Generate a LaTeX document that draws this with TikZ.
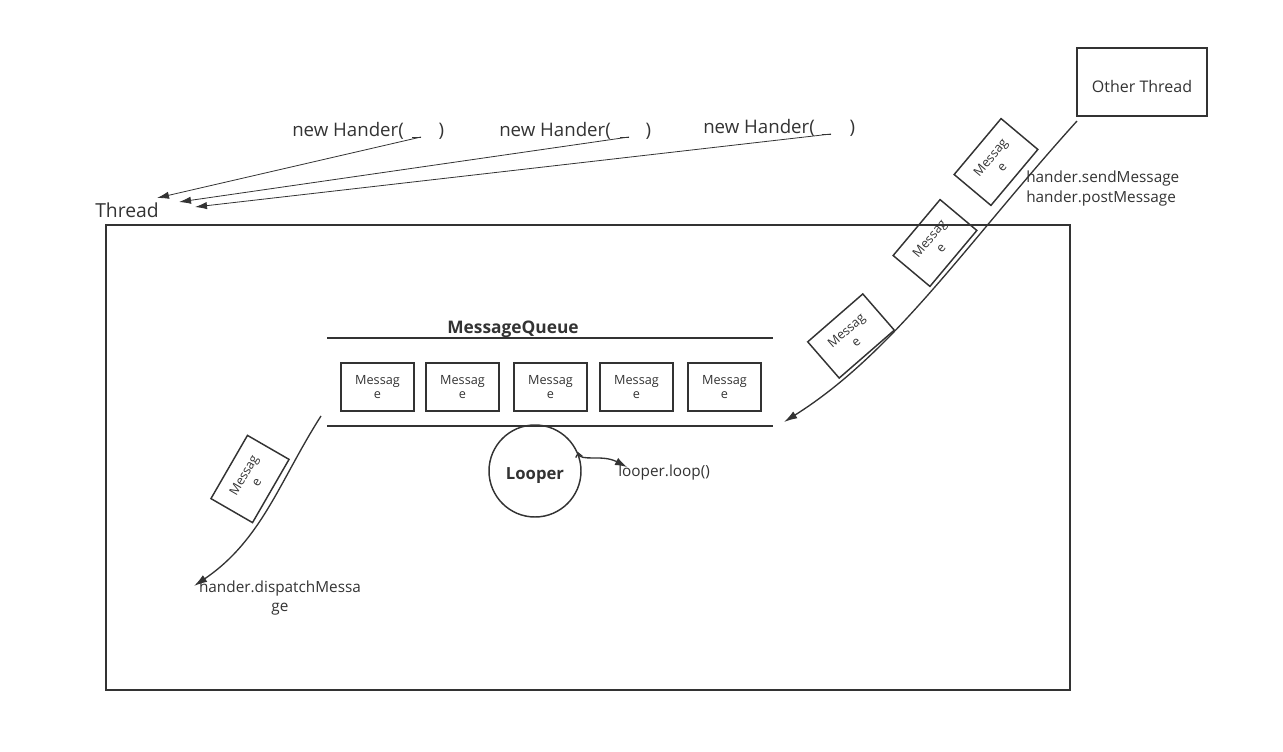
\documentclass[tikz,border=0pt]{standalone}
\usepackage{fontspec}
\setmainfont{Open Sans}
\usetikzlibrary{arrows.meta}
\begin{document}
\begin{tikzpicture}[x=0.75pt,y=-0.75pt,
  ink/.style={draw=black!80},
  frame/.style={ink,line width=1.1pt},
  msg/.style={frame,minimum width=54.75pt,minimum height=36pt,inner sep=0pt,
    align=center,font=\fontsize{9.5}{11}\selectfont,text=black!80},
  thin arrow/.style={ink,line width=0.6pt,-{Latex[length=9pt,width=5.5pt]}},
  flow arrow/.style={ink,line width=1pt,-{Latex[length=10pt,width=6pt]}},
  label/.style={inner sep=0pt,text=black!80},
  ctor/.style={label,anchor=west,font=\fontsize{14}{16}\selectfont}]
\useasboundingbox (0,0) rectangle (1283,752);

% thread container
\node[label,anchor=west,font=\fontsize{14.5}{16}\selectfont] (thread) at (95,210) {Thread};
\draw[frame] (106,225) rectangle (1070,690);

% handler constructors
\node[ctor] (h1) at (292,131) {new Hander(\hspace{26pt})};
\node[ctor] (h2) at (499,131) {new Hander(\hspace{26pt})};
\node[ctor] (h3) at (703,128) {new Hander(\hspace{26pt})};
\coordinate (h1s) at (421,137);
\coordinate (h2s) at (629,137);
\coordinate (h3s) at (831,134);
\coordinate (t1) at (157,198);
\coordinate (t2) at (179,202);
\coordinate (t3) at (195,207);
\draw[ink,line width=0.6pt] (h1s) -- ++(-9,0);
\draw[ink,line width=0.6pt] (h2s) -- ++(-9,0);
\draw[ink,line width=0.6pt] (h3s) -- ++(-9,0);
\draw[thin arrow] (h1s) -- (t1);
\draw[thin arrow] (h2s) -- (t2);
\draw[thin arrow] (h3s) -- (t3);

% other thread
\node[frame,minimum width=97.5pt,minimum height=51pt,inner sep=0pt,
  font=\fontsize{12}{14}\selectfont,text=black!80] (other) at (1142,82)
  {\raisebox{-8pt}[0pt][0pt]{Other Thread}};
\coordinate (os) at (1077,121);
\coordinate (qin) at (784,422);
\draw[flow arrow] (os) .. controls (965,245) and (895,352) .. (qin);
\node[label,anchor=north west,align=left,font=\fontsize{11.5}{14.5}\selectfont] (send) at (1026,171)
  {hander.sendMessage\\hander.postMessage};

% messages in transit
\node[msg,rotate=50] (m1) at (996,162) {Messag\\e};
\node[msg,rotate=50] (m2) at (935,243) {Messag\\e};
\node[msg,rotate=41] (m3) at (851,336) {Messag\\e};

% message queue
\draw[ink,line width=1.1pt] (327,338) -- (773,338);
\draw[ink,line width=1.1pt] (327,426) -- (773,426);
\node[label,font=\bfseries\fontsize{13}{15}\selectfont] (mq) at (513,329) {MessageQueue};
\node[msg] (q1) at (377.5,387) {Messag\\e};
\node[msg] (q2) at (462.5,387) {Messag\\e};
\node[msg] (q3) at (550.5,387) {Messag\\e};
\node[msg] (q4) at (636.5,387) {Messag\\e};
\node[msg] (q5) at (724.5,387) {Messag\\e};

% looper
\node[circle,ink,line width=1.1pt,minimum size=69pt,inner sep=0pt,
  font=\bfseries\fontsize{12.5}{15}\selectfont,text=black!80] (looper) at (535,471)
  {\raisebox{-6pt}[0pt][0pt]{Looper}};
\node[label,anchor=west,font=\fontsize{11.5}{14}\selectfont] (loop) at (618,473) {looper.loop()};
\coordinate (ls) at (578,452);
\coordinate (le) at (627,467);
\draw[ink,line width=1pt,{Straight Barb[length=3pt,width=5pt]}-{Latex[length=9pt,width=6pt]}]
  (ls) .. controls (580,462) and (602,454) .. (le);

% dispatch
\node[msg,rotate=60] (m4) at (250,479) {Messag\\e};
\coordinate (ds) at (321,416);
\coordinate (de) at (194,586);
\draw[flow arrow] (ds) .. controls (280,480) and (262,540) .. (de);
\node[label,align=center,font=\fontsize{11.5}{14.5}\selectfont] (disp) at (280,598)
  {hander.dispatchMessa\\ge};
\end{tikzpicture}
\end{document}
